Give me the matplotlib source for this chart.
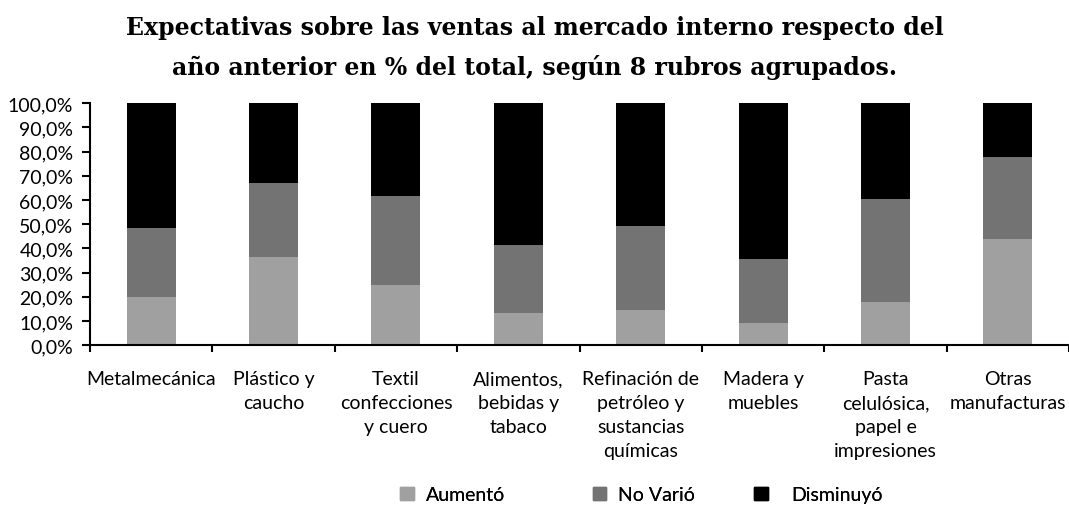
import matplotlib as mpl
import matplotlib.pyplot as plt
import numpy as np
from matplotlib.patches import Patch
from matplotlib.ticker import FuncFormatter, FixedLocator

mpl.rcParams.update({
    "font.family": ["Lato", "DejaVu Sans"],
    "font.size": 14,
})

rubros = [
    "Metalmecánica",
    "Plástico y\ncaucho",
    "Textil\nconfecciones\ny cuero",
    "Alimentos,\nbebidas y\ntabaco",
    "Refinación de\npetróleo y\nsustancias\nquímicas",
    "Madera y\nmuebles",
    "Pasta\ncelulósica,\npapel e\nimpresiones",
    "Otras\nmanufacturas",
]
aumento = [20.0, 36.5, 24.8, 13.2, 14.6, 9.1, 17.8, 43.9]
no_vario = [28.4, 30.5, 36.8, 28.2, 34.6, 26.5, 42.6, 33.9]
disminuyo = [100 - a - b for a, b in zip(aumento, no_vario)]

series = ["Aumentó", "No Varió", "Disminuyó"]
colores = ["#a0a0a0", "#737373", "#000000"]

fig = plt.figure(figsize=(10.69, 5.06), dpi=100)
ax = fig.add_axes([0.0842, 0.316, 0.9158, 0.478])

x = np.arange(len(rubros))
w = 0.4
ax.bar(x, aumento, w, color=colores[0])
ax.bar(x, no_vario, w, bottom=aumento, color=colores[1])
bot = [a + b for a, b in zip(aumento, no_vario)]
ax.bar(x, disminuyo, w, bottom=bot, color=colores[2])

ax.set_xlim(-0.5, len(rubros) - 0.5)
ax.set_ylim(0, 100)
ax.set_yticks(np.arange(0, 101, 10))
ax.yaxis.set_major_formatter(FuncFormatter(lambda v, p: f"{v:.1f}%".replace(".", ",")))

ax.set_xticks(x)
ax.set_xticklabels(rubros, linespacing=1.5, va="top")
ax.tick_params(axis="x", which="major", length=0, pad=18)
ax.xaxis.set_minor_locator(FixedLocator(np.arange(-0.5, len(rubros), 1.0)))
ax.tick_params(axis="x", which="minor", length=5, width=1.5, direction="out")
ax.tick_params(axis="y", length=6, width=1.5, direction="out", labelsize=14, pad=6)

for s in ["top", "right"]:
    ax.spines[s].set_visible(False)
ax.spines["left"].set_linewidth(1.5)
ax.spines["bottom"].set_linewidth(1.5)

fig.text(0.5, 0.944, "Expectativas sobre las ventas al mercado interno respecto del",
         ha="center", va="center", fontsize=17, fontweight="bold", family="DejaVu Serif")
fig.text(0.5, 0.866, "año anterior en % del total, según 8 rubros agrupados.",
         ha="center", va="center", fontsize=17, fontweight="bold", family="DejaVu Serif")

# legend entries placed one by one (Excel spacing is uneven)
leg_x = [0.3745, 0.5545, 0.7055]
pads = [0.6, 0.6, 1.2]
for nombre, col, lx, tp in zip(series, colores, leg_x, pads):
    lg = fig.legend(handles=[Patch(color=col, label=nombre)], loc="center left",
                    bbox_to_anchor=(lx, 0.02), frameon=False, handlelength=0.7,
                    handleheight=0.7, handletextpad=tp, fontsize=14, borderpad=0,
                    borderaxespad=0)
    fig.add_artist(lg)

fig.savefig("out.png", dpi=100)
